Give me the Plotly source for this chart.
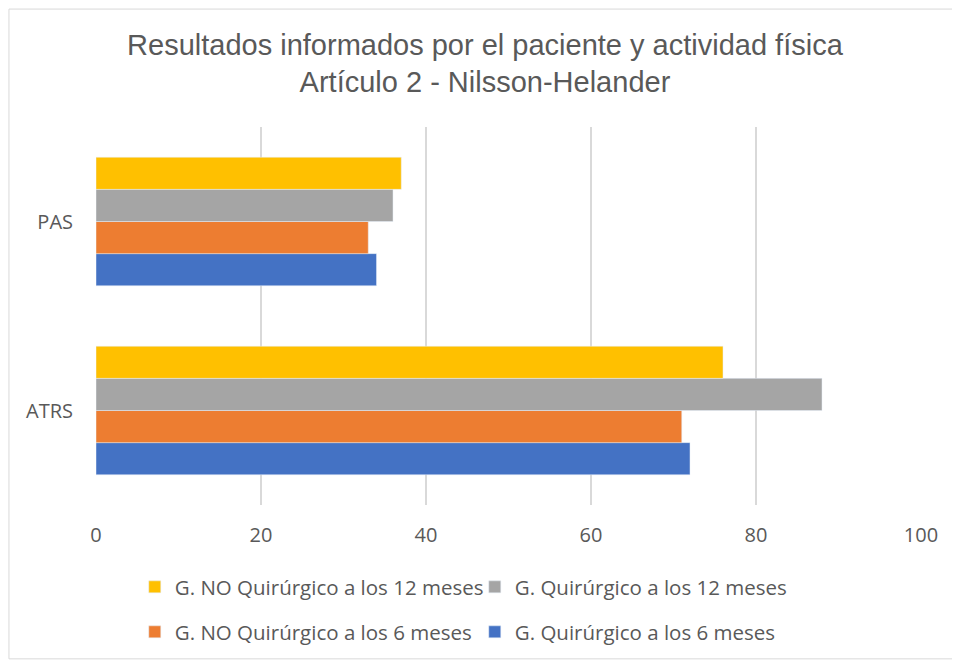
import plotly.graph_objects as go

categories = ["ATRS", "PAS"]
q6 = [72, 34]      # G. Quirúrgico a los 6 meses
nq6 = [71, 33]     # G. NO Quirúrgico a los 6 meses
q12 = [88, 36]     # G. Quirúrgico a los 12 meses
nq12 = [76, 37]    # G. NO Quirúrgico a los 12 meses
tick_vals = [0, 20, 40, 60, 80, 100]

fig = go.Figure()
fig.add_trace(go.Bar(y=categories, x=q6, orientation="h", name="G. Quirúrgico a los 6 meses",
                     marker_color="#4472C4", legend="legend2"))
fig.add_trace(go.Bar(y=categories, x=nq6, orientation="h", name="G. NO Quirúrgico a los 6 meses",
                     marker_color="#ED7D31", legend="legend2"))
fig.add_trace(go.Bar(y=categories, x=q12, orientation="h", name="G. Quirúrgico a los 12 meses",
                     marker_color="#A5A5A5", legend="legend"))
fig.add_trace(go.Bar(y=categories, x=nq12, orientation="h", name="G. NO Quirúrgico a los 12 meses",
                     marker_color="#FFC000", legend="legend"))

legend_common = dict(orientation="h", traceorder="reversed", entrywidth=295, entrywidthmode="pixels",
                     font=dict(family="Open Sans, Noto Sans, sans-serif", size=20.5, color="#595959"),
                     xanchor="left", yanchor="middle", itemwidth=30, bgcolor="rgba(0,0,0,0)")

fig.update_layout(
    width=952, height=656,
    paper_bgcolor="white", plot_bgcolor="white",
    margin=dict(l=88, r=39, t=119, b=159),
    barmode="group", bargap=0.32, bargroupgap=0,
    title=dict(text="Resultados informados por el paciente y actividad física<br>Artículo 2 - Nilsson-Helander",
               x=0.501, xanchor="center", y=0.929, yanchor="bottom",
               font=dict(family="Liberation Sans Narrow, Liberation Sans, Arial, sans-serif", size=29, color="#595959")),
    legend=dict(x=0.047, y=-0.217, **legend_common),
    legend2=dict(x=0.047, y=-0.336, **legend_common),
    xaxis=dict(range=[0, 100], tickvals=tick_vals, showgrid=True, gridcolor="#D9D9D9", gridwidth=1.5,
               zeroline=False, showline=False, ticks="", ticklabelstandoff=16,
               tickfont=dict(family="Open Sans, Noto Sans, sans-serif", size=20, color="#595959")),
    yaxis=dict(showgrid=False, zeroline=False, showline=False, ticks="", ticklabelstandoff=22,
               tickfont=dict(family="Open Sans, Noto Sans, sans-serif", size=20, color="#595959")),
    shapes=[dict(type="rect", xref="paper", yref="paper", x0=-0.1055, x1=1.0424, y0=-0.407, y1=1.312,
                 line=dict(color="#D9D9D9", width=1), fillcolor="rgba(0,0,0,0)", layer="below")],
)

fig.write_html("out.html")
